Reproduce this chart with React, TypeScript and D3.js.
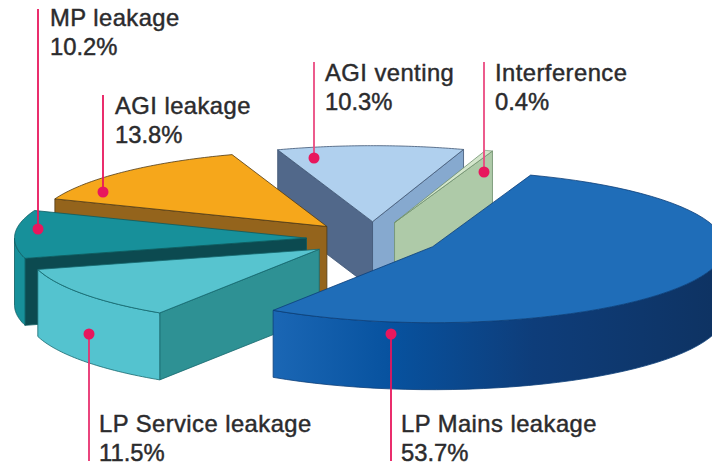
import * as d3 from "d3";

const categories = ["LP Mains leakage", "LP Service leakage", "MP leakage", "AGI leakage", "AGI venting", "Interference"];
const shares = [53.7, 11.5, 10.2, 13.8, 10.3, 0.4];

const width = 712;
const height = 466;
const centre = { x: 373, y: 239 };
const rx = 292;
const ry = 76;
const depth = 67;
const explode = 0.228;
const firstAngle = (19.6 * Math.PI) / 180;

// one colour set per category: top face, rim, wall at slice start, wall at slice end
const faces = [
  { top: "#1f6db8", rim: "url(#rimBlue)", start: "#0e3a73", end: "#0e3a73", edge: "#0d3f78" },
  { top: "#57c4cf", rim: "#54c3cf", start: "#2e9194", end: "#2e9194", edge: "#17686e" },
  { top: "#17909a", rim: "#17909a", start: "#0c4a50", end: "#0c4a50", edge: "#0c5a60" },
  { top: "#f6a71b", rim: "#94641c", start: "#94641c", end: "#94641c", edge: "#4f3a16" },
  { top: "#b0d0ee", rim: "#86a9cf", start: "#51688a", end: "#86a9cf", edge: "#3f5573" },
  { top: "#d4e6cc", rim: "#aecaa8", start: "#aecaa8", end: "#aecaa8", edge: "#6f8f6c" },
];

// leader and label placement, in category order
const callouts = [
  { dot: [391, 334], lineEnd: 461, text: [401, 432], stroke: "#e8175d" },
  { dot: [89, 334], lineEnd: 461, text: [99, 432], stroke: "#e8306f" },
  { dot: [38, 229], lineEnd: 9, text: [50, 26], stroke: "#e8175d" },
  { dot: [103, 192], lineEnd: 95, text: [115, 114], stroke: "#e8175d" },
  { dot: [314, 158], lineEnd: 62, text: [325, 81], stroke: "#ea4a80" },
  { dot: [484, 172], lineEnd: 62, text: [495, 81], stroke: "#ea4a80" },
];

// slices are painted back to front so nearer ones cover the walls behind
const paintOrder = [4, 5, 3, 2, 1, 0];
const accent = "#e8175d";

export default function App() {
  const arcs = d3
    .pie<number>()
    .sort(null)
    .startAngle(firstAngle)
    .endAngle(firstAngle + 2 * Math.PI)(shares);

  const line = d3.line();

  const slices = arcs.map((d, i) => {
    // d3 measures from 12 o'clock, the ellipse from 3 o'clock
    const a0 = d.startAngle - Math.PI / 2;
    const a1 = d.endAngle - Math.PI / 2;
    const mid = (a0 + a1) / 2;
    const ox = centre.x + explode * rx * Math.cos(mid);
    const oy = centre.y + explode * ry * Math.sin(mid);
    const rim = (t: number): [number, number] => [ox + rx * Math.cos(t), oy + ry * Math.sin(t)];
    const steps = d3.range(0, 61).map((k) => a0 + ((a1 - a0) * k) / 60);
    const down = (p: [number, number]): [number, number] => [p[0], p[1] + depth];
    const apex: [number, number] = [ox, oy];

    const top = line([apex, ...steps.map(rim)]) + "Z";
    const wall = (t: number) => line([apex, rim(t), down(rim(t)), down(apex)]) + "Z";

    // a flat wall shows when its outward normal points at the viewer
    const startShows = Math.sin(a0 - Math.PI / 2) > 0;
    const endShows = Math.sin(a1 + Math.PI / 2) > 0;

    const front: [number, number][] = [];
    for (let n = -1; n <= 2; n++) {
      const lo = Math.max(a0, n * 2 * Math.PI);
      const hi = Math.min(a1, n * 2 * Math.PI + Math.PI);
      if (lo < hi) {
        d3.range(0, 41).forEach((k) => front.push(rim(lo + ((hi - lo) * k) / 40)));
      }
    }
    const rimWall = front.length ? line([...front, ...front.map(down).reverse()]) + "Z" : null;

    return {
      i,
      top,
      rimWall,
      startWall: startShows ? wall(a0) : null,
      endWall: endShows ? wall(a1) : null,
    };
  });

  return (
    <svg
      width={width}
      height={height}
      viewBox={`0 0 ${width} ${height}`}
      style={{ position: "absolute", left: 0, top: 0, background: "#fff" }}
    >
      <defs>
        <linearGradient id="rimBlue" gradientUnits="userSpaceOnUse" x1="265" x2="712" y1="0" y2="0">
          <stop offset="0" stopColor="#1c68b6" />
          <stop offset="0.28" stopColor="#07529f" />
          <stop offset="0.6" stopColor="#0e3d7a" />
          <stop offset="1" stopColor="#0e3363" />
        </linearGradient>
      </defs>

      {paintOrder.map((idx) => {
        const s = slices[idx];
        const c = faces[idx];
        return (
          <g key={categories[idx]} stroke={c.edge} strokeWidth={0.8} strokeLinejoin="round">
            {s.startWall && <path d={s.startWall} fill={c.start} />}
            {s.endWall && <path d={s.endWall} fill={c.end} />}
            {s.rimWall && <path d={s.rimWall} fill={c.rim} />}
            <path d={s.top} fill={c.top} />
          </g>
        );
      })}

      {callouts.map((c, i) => (
        <g key={categories[i]}>
          <line x1={c.dot[0]} x2={c.dot[0]} y1={c.dot[1]} y2={c.lineEnd} stroke={c.stroke} strokeWidth={1.8} />
          <circle cx={c.dot[0]} cy={c.dot[1]} r={5.5} fill={accent} />
          <text
            x={c.text[0]}
            y={c.text[1]}
            fontFamily="'Liberation Sans', Arial, sans-serif"
            fontSize={23.8}
            fontWeight={400}
            fill="#2b2b2d"
            stroke="#2b2b2d"
            strokeWidth={0.45}
          >
            <tspan x={c.text[0]} letterSpacing={0.45}>{categories[i]}</tspan>
            <tspan x={c.text[0]} dy={29}>{d3.format(".1f")(shares[i])}%</tspan>
          </text>
        </g>
      ))}
    </svg>
  );
}
